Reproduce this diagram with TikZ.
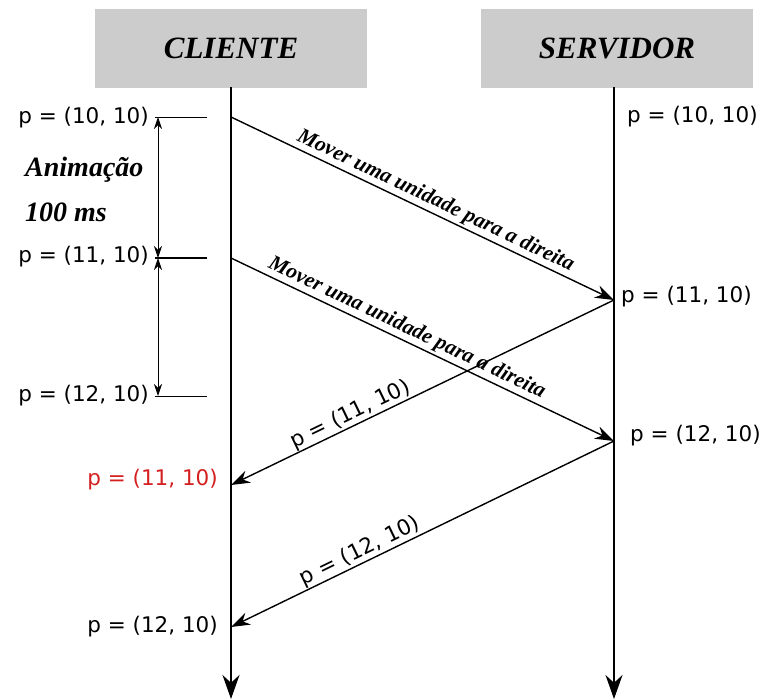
\documentclass[tikz,border=0pt]{standalone}
\usepackage{fontspec}
\setmainfont{Liberation Serif}
\setsansfont{DejaVu Sans}
\usetikzlibrary{arrows.meta}
\definecolor{boxgray}{HTML}{CCCCCC}
\definecolor{redlbl}{HTML}{D42020}
\begin{document}
\begin{tikzpicture}[x=1pt,y=-1pt,
  actor/.style={fill=boxgray, draw=none, minimum width=272pt, minimum height=79pt,
    inner sep=0pt, font=\fontsize{31}{35}\selectfont\bfseries\itshape},
  life/.style={line width=1.8pt, -{Stealth[length=24pt,width=17pt]}},
  msg/.style={line width=1.4pt, -{Stealth[length=19pt,width=13pt]}},
  pos lbl/.style={font=\sffamily\fontsize{21.5}{25}\selectfont, inner sep=1pt},
  msg lbl/.style={font=\fontsize{21.5}{24}\selectfont\bfseries\itshape, inner sep=2pt},
  note lbl/.style={font=\fontsize{28}{32}\selectfont\bfseries\itshape, anchor=west, inner sep=0pt},
  tick/.style={line width=0.8pt},
  dim/.style={line width=0.8pt, {Stealth[length=12pt,width=8pt]}-{Stealth[length=12pt,width=8pt]}}]
\useasboundingbox (0,0) rectangle (761,699);

% actors
\node[actor] (cli) at (231,48) {CLIENTE};
\node[actor] (srv) at (617,48) {SERVIDOR};

% lifeline points
\coordinate (c0) at (231,87);
\coordinate (c1) at (231,117);
\coordinate (c2) at (231,258);
\coordinate (c3) at (231,485);
\coordinate (c4) at (231,627);
\coordinate (cend) at (231,699);
\coordinate (s0) at (614,87);
\coordinate (s1) at (614,300);
\coordinate (s2) at (614,441);
\coordinate (send) at (614,699);

\draw[life] (c0) -- (cend);
\draw[life] (s0) -- (send);

% messages
\draw[msg] (c1) -- node[msg lbl, sloped, above, pos=0.52] {Mover uma unidade para a direita} (s1);
\draw[msg] (c2) -- node[msg lbl, sloped, above, pos=0.445] {Mover uma unidade para a direita} (s2);
\draw[msg] (s1) -- (c3);
\draw[msg] (s2) -- (c4);
\path (c3) -- node[pos lbl, sloped, above, pos=0.325] {p = (11, 10)} (s1);
\path (c4) -- node[pos lbl, sloped, above, pos=0.35] {p = (12, 10)} (s2);

% animation interval on the client side
\coordinate (t1l) at (155,117); \coordinate (t1r) at (207,117);
\coordinate (t2l) at (155,258); \coordinate (t2r) at (207,258);
\coordinate (t3l) at (155,396); \coordinate (t3r) at (207,396);
\coordinate (d1) at (158,117);
\coordinate (d2) at (158,258);
\coordinate (d3) at (158,396);
\draw[tick] (t1l) -- (t1r);
\draw[line width=2.6pt] (t2l) -- (t2r);
\draw[tick] (t3l) -- (t3r);
\draw[dim] (d1) -- (d2);
\draw[dim] (d2) -- (d3);

\node[pos lbl, anchor=east] (lp1) at (150,118) {p = (10, 10)};
\node[pos lbl, anchor=east] (lp2) at (150,257) {p = (11, 10)};
\node[pos lbl, anchor=east] (lp3) at (150,396) {p = (12, 10)};
\node[pos lbl, anchor=east, text=redlbl] (lp4) at (219,480) {p = (11, 10)};
\node[pos lbl, anchor=east] (lp5) at (219,627) {p = (12, 10)};

\node[note lbl] (anim) at (25,170) {Animação};
\node[note lbl] (dur) at (25,212) {100 ms};

% server side states
\node[pos lbl, anchor=west] (rp1) at (626,117) {p = (10, 10)};
\node[pos lbl, anchor=west] (rp2) at (620,297) {p = (11, 10)};
\node[pos lbl, anchor=west] (rp3) at (629,436) {p = (12, 10)};
\end{tikzpicture}
\end{document}
